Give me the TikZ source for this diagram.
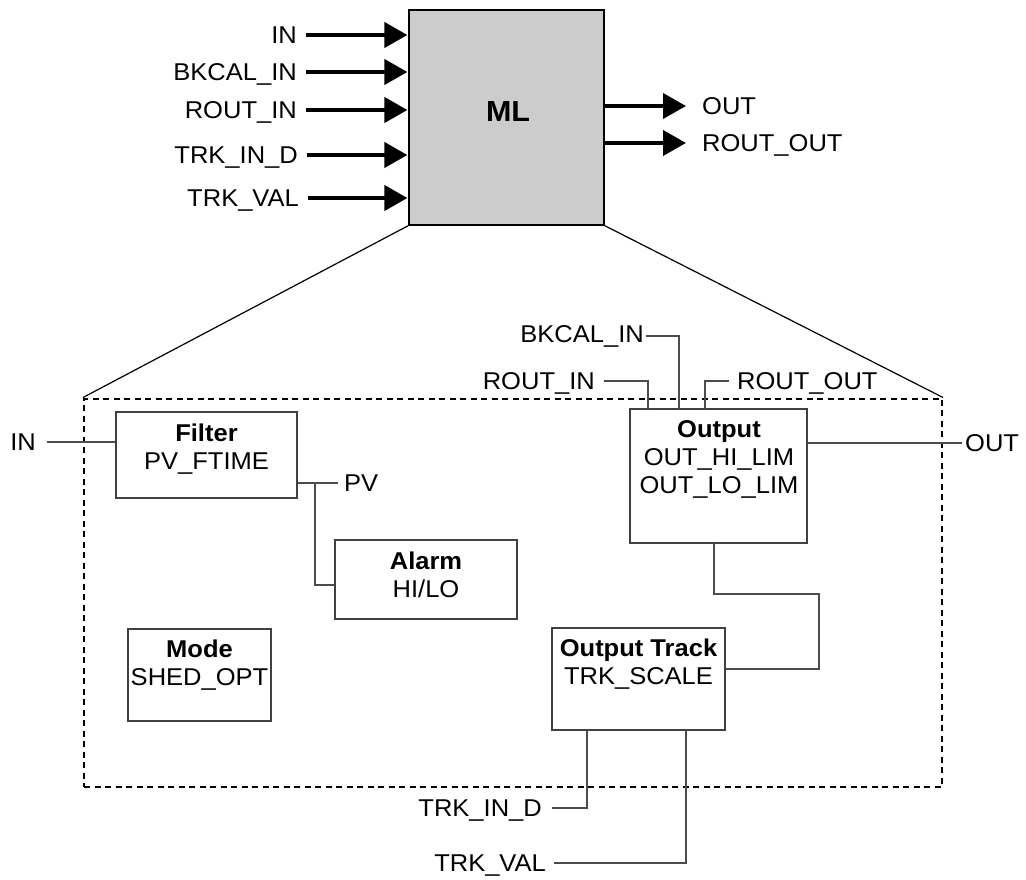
\documentclass[tikz,border=0pt]{standalone}
\usepackage{fontspec}
\setmainfont[FakeStretch=1.05]{Liberation Sans}
\usetikzlibrary{arrows.meta}
\begin{document}
\begin{tikzpicture}[x=1pt,y=-1pt,
  lbl/.style={font=\fontsize{24.3}{28}\selectfont, inner sep=0pt, text height=17.4pt, text depth=0pt},
  boxtxt/.style={font=\fontsize{24.3}{28}\selectfont, inner sep=0pt, align=center, anchor=north},
  fbox/.style={draw=black!75, line width=1.2pt, inner sep=0pt},
  conn/.style={draw=black!70, line width=1.2pt},
  bigarrow/.style={line width=4pt, -{Triangle[length=23pt,width=25pt]}},
  frame/.style={draw=black, line width=2pt, dash pattern=on 6pt off 4.5pt, inner sep=0pt}
]
\useasboundingbox (0,0) rectangle (1026,880);

% ML block
\node[draw=black, line width=1.2pt, fill=gray!40, minimum width=195pt, minimum height=215pt, inner sep=0pt] (ml) at (506.5,117.5) {};
\node[font=\fontsize{29}{32}\selectfont\bfseries, inner sep=0pt, text height=20.8pt, text depth=0pt] (mltxt) at (508,111) {ML};

% input labels
\node[lbl, anchor=east] (iin) at (297,35) {IN};
\node[lbl, anchor=east] (ibk) at (297,72) {BKCAL\_IN};
\node[lbl, anchor=east] (irin) at (297,110) {ROUT\_IN};
\node[lbl, anchor=east] (itd) at (298,155) {TRK\_IN\_D};
\node[lbl, anchor=east] (itv) at (299,198) {TRK\_VAL};
\foreach \n in {iin,ibk,irin,itd,itv}
  \draw[bigarrow] ([xshift=9pt]\n.east) -- ([xshift=-1pt]ml.west |- \n.east);

% output labels
\node[lbl, anchor=west] (oout) at (702,106) {OUT};
\node[lbl, anchor=west] (orout) at (702,143) {ROUT\_OUT};
\foreach \n in {oout,orout}
  \draw[bigarrow] (ml.east |- \n.west) -- ([xshift=-16pt]\n.west);

% dotted frame
\node[frame, minimum width=858pt, minimum height=388pt] (fr) at (513,592.5) {};
\draw[line width=1.2pt] (ml.south west) -- (fr.north west);
\draw[line width=1.2pt] (ml.south east) -- (fr.north east);

% Filter
\node[fbox, minimum width=181pt, minimum height=86pt] (filter) at (206.5,455) {};
\node[boxtxt] (filtertxt) at (206.5,423.4) {\textbf{Filter}\\PV\_FTIME};
\node[lbl, anchor=east] (fin) at (36,442) {IN};
\draw[conn] ([xshift=11pt]fin.east) -- (filter.west |- fin.east);
\node[lbl, anchor=west] (pv) at (344,483) {PV};
\draw[conn] (filter.east |- pv.west) -- ([xshift=-6pt]pv.west);

% Alarm
\node[fbox, minimum width=182pt, minimum height=79pt] (alarm) at (426,579.5) {};
\node[boxtxt] (alarmtxt) at (426,551.4) {\textbf{Alarm}\\HI/LO};
\coordinate (pvj) at (315,483);
\draw[conn] (pvj) |- ([yshift=-5.5pt]alarm.west);

% Mode
\node[fbox, minimum width=143pt, minimum height=92pt] (mode) at (199.5,675) {};
\node[boxtxt] (modetxt) at (199.5,639.4) {\textbf{Mode}\\SHED\_OPT};

% Output
\node[fbox, minimum width=177pt, minimum height=134pt] (outp) at (718.5,476) {};
\node[boxtxt] (outptxt) at (719,420.4) {\textbf{Output}\\OUT\_HI\_LIM\\OUT\_LO\_LIM};
\node[lbl, anchor=east] (bk) at (644,334) {BKCAL\_IN};
\node[lbl, anchor=east] (rin) at (595,381) {ROUT\_IN};
\node[lbl, anchor=west] (rout) at (737,381) {ROUT\_OUT};
\node[lbl, anchor=west] (out) at (965,443) {OUT};
\coordinate (bkx) at (679,409);
\coordinate (rinx) at (648,409);
\coordinate (routx) at (705,409);
\draw[conn] ([xshift=2pt,yshift=-2pt]bk.east) -| (bkx);
\draw[conn] ([xshift=9pt]rin.east) -| (rinx);
\draw[conn] (routx) |- ([xshift=-8pt]rout.west);
\draw[conn] (outp.east |- out.west) -- ([xshift=-3pt]out.west);

% Output Track
\node[fbox, minimum width=173pt, minimum height=102pt] (trk) at (638.5,679) {};
\node[boxtxt] (trktxt) at (638.5,638.4) {\textbf{Output Track}\\TRK\_SCALE};
\coordinate (ob) at (714,543);
\coordinate (lp1) at (819,594);
\draw[conn] (ob) |- (lp1) |- ([yshift=10pt]trk.east);

\node[lbl, anchor=east] (tid) at (542,808) {TRK\_IN\_D};
\node[lbl, anchor=east] (tval) at (546,863) {TRK\_VAL};
\coordinate (tidx) at (587,730);
\coordinate (tvalx) at (686,730);
\draw[conn] (tidx) |- ([xshift=10pt]tid.east);
\draw[conn] (tvalx) |- ([xshift=8pt]tval.east);
\end{tikzpicture}
\end{document}
